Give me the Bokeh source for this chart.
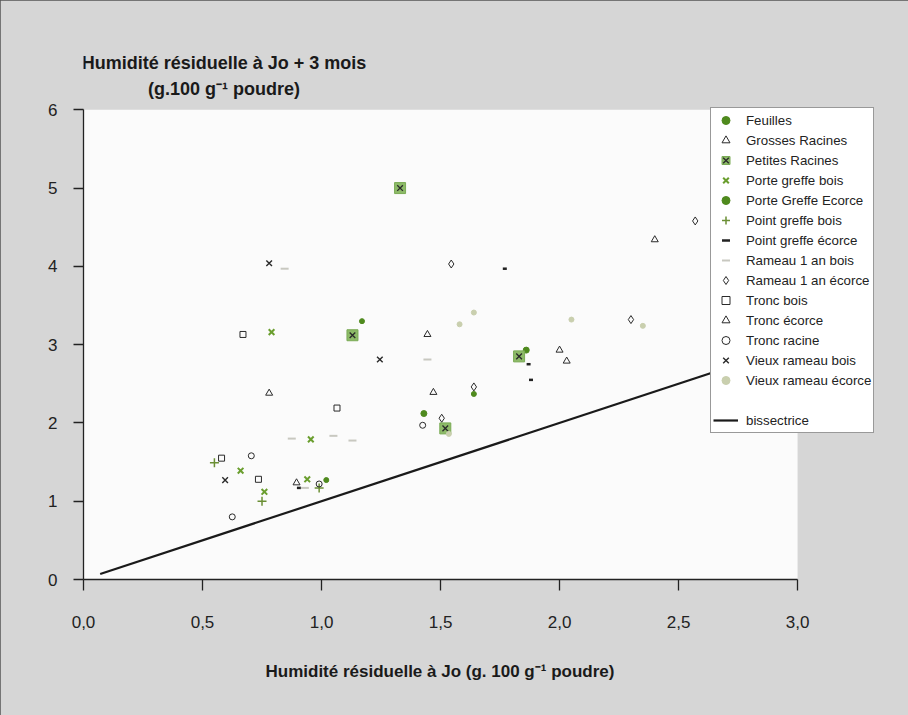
from bokeh.plotting import figure
from bokeh.models import (Range1d, FixedTicker, CustomJSTickFormatter, Label,
                          Legend, LegendItem, BoxAnnotation, Title)
from bokeh.embed import file_html
from bokeh.resources import INLINE

# ---------------- data ----------------
x_tick_values = [0.0, 0.5, 1.0, 1.5, 2.0, 2.5, 3.0]
y_tick_values = [0, 1, 2, 3, 4, 5, 6]
x_axis_min, x_axis_max = 0.0, 3.0
y_axis_min, y_axis_max = 0, 6

feuilles_x = [1.43, 1.86]
feuilles_y = [2.12, 2.93]
grosses_racines_x = [2.40, 2.00, 2.03]
grosses_racines_y = [4.34, 2.93, 2.79]
petites_racines_x = [1.33, 1.13, 1.83, 1.52]
petites_racines_y = [5.00, 3.12, 2.85, 1.93]
pg_bois_x = [0.79, 0.955, 0.66, 0.76, 0.94]
pg_bois_y = [3.16, 1.79, 1.39, 1.12, 1.28]
pg_ecorce_x = [1.64, 1.17, 1.02]
pg_ecorce_y = [2.37, 3.30, 1.27]
ptg_bois_x = [0.55, 0.75, 0.99]
ptg_bois_y = [1.49, 1.00, 1.17]
ptg_ecorce_x = [0.905, 1.77, 1.87, 1.88]
ptg_ecorce_y = [1.17, 3.97, 2.75, 2.55]
r1_bois_x = [0.875, 1.05, 1.13, 1.445, 0.93, 0.845]
r1_bois_y = [1.80, 1.835, 1.775, 2.81, 1.17, 3.97]
r1_ecorce_x = [1.545, 2.30, 1.64, 1.505, 2.57]
r1_ecorce_y = [4.03, 3.32, 2.46, 2.06, 4.58]
tronc_bois_x = [0.67, 1.065, 0.58, 0.735]
tronc_bois_y = [3.13, 2.19, 1.55, 1.28]
tronc_ecorce_x = [1.445, 0.78, 1.47, 0.895]
tronc_ecorce_y = [3.13, 2.38, 2.39, 1.235]
tronc_racine_x = [1.425, 0.705, 0.99, 0.625]
tronc_racine_y = [1.97, 1.58, 1.22, 0.80]
vr_bois_x = [0.78, 1.245, 0.595]
vr_bois_y = [4.04, 2.81, 1.27]
vr_ecorce_x = [1.64, 1.58, 2.05, 2.35, 1.535]
vr_ecorce_y = [3.41, 3.26, 3.32, 3.24, 1.86]
bis_x = [0.07, 3.0]
bis_y = [0.07, 3.0]

y_title_1 = "Humidité résiduelle à Jo + 3 mois"
y_title_2 = "(g.100 g⁻¹ poudre)"
x_title = "Humidité résiduelle à Jo (g. 100 g⁻¹ poudre)"

# ---------------- figure ----------------
W, H = 908, 715
FONT = "Liberation Sans"
DARK = "#2a2a2a"
GREEN = "#4f8a1e"
GREEN2 = "#6a9e2e"
LIGHT = "#c9cfae"
GRAY_BG = "#d6d6d6"

p = figure(width=W, height=H, x_range=Range1d(0, 3.382), y_range=Range1d(0, 7.0),
           output_backend="svg", toolbar_location=None,
           min_border_left=83, min_border_right=20,
           min_border_top=31, min_border_bottom=136)
p.styles = {"position": "fixed", "left": "0px", "top": "0px",
            "background-color": GRAY_BG,
            "outline": "1.5px solid #555", "outline-offset": "-1.5px"}
p.border_fill_color = GRAY_BG
p.background_fill_color = GRAY_BG
p.outline_line_color = None
p.xgrid.visible = False
p.ygrid.visible = False

# white plotting area
p.add_layout(BoxAnnotation(left=x_axis_min, right=x_axis_max,
                           bottom=y_axis_min, top=y_axis_max,
                           fill_color="#fbfbfb", fill_alpha=1.0,
                           line_color=None, level="underlay"))

for ax in (p.xaxis[0], p.yaxis[0]):
    ax.axis_line_color = "#222"
    ax.axis_line_width = 1.3
    ax.major_tick_line_color = "#222"
    ax.major_tick_line_width = 1.3
    ax.major_tick_in = 0
    ax.minor_tick_line_color = None
    ax.major_label_text_font = FONT
    ax.major_label_text_font_size = "17px"
    ax.major_label_text_color = "#222"

p.xaxis.bounds = (x_axis_min, x_axis_max)
p.yaxis.bounds = (y_axis_min, y_axis_max)
p.xaxis.ticker = FixedTicker(ticks=x_tick_values)
p.xaxis.formatter = CustomJSTickFormatter(code="return tick.toFixed(1).replace('.', ',');")
p.yaxis.ticker = FixedTicker(ticks=y_tick_values)
p.xaxis.major_tick_out = 11
p.yaxis.major_tick_out = 10
p.xaxis.major_label_standoff = 25
p.yaxis.major_label_standoff = 16

p.add_layout(Title(text=x_title, align="left", offset=182, standoff=58,
                   text_font=FONT, text_font_style="bold", text_font_size="17px",
                   text_color="#1a1a1a"), "below")

for txt, yy in ((y_title_1, 6.6), (y_title_2, 6.27)):
    p.add_layout(Label(x=0.59, y=yy, text=txt, text_align="center",
                       text_baseline="middle", text_font=FONT,
                       text_font_style="bold", text_font_size="18px",
                       text_color="#1a1a1a"))

# ---------------- glyphs ----------------
r_bis = p.line(bis_x, bis_y, line_color="#1a1a1a", line_width=2.2)

r_feu = p.scatter(feuilles_x, feuilles_y, marker="circle", size=6,
                  fill_color=GREEN, line_color=GREEN)
r_gr = p.scatter(grosses_racines_x, grosses_racines_y, marker="triangle", size=7,
                 fill_color=None, line_color=DARK, line_width=1)
r_pr_sq = p.scatter(petites_racines_x, petites_racines_y, marker="square", size=11,
                    fill_color="#8dba68", line_color="#7aab55")
r_pr_x = p.scatter(petites_racines_x, petites_racines_y, marker="x", size=8,
                   line_color=DARK, line_width=1.3)
r_pgb = p.scatter(pg_bois_x, pg_bois_y, marker="x", size=8,
                  line_color=GREEN2, line_width=2)
r_pge = p.scatter(pg_ecorce_x, pg_ecorce_y, marker="circle", size=5,
                  fill_color=GREEN, line_color=GREEN)
r_ptb = p.scatter(ptg_bois_x, ptg_bois_y, marker="cross", size=9,
                  line_color="#6b8f35", line_width=1.5)
r_pte = p.scatter(ptg_ecorce_x, ptg_ecorce_y, marker="dash", size=4,
                  line_color="#222", line_width=2.5)
r_r1b = p.scatter(r1_bois_x, r1_bois_y, marker="dash", size=8,
                  line_color="#c8c8c0", line_width=2)
r_r1e = p.scatter(r1_ecorce_x, r1_ecorce_y, marker="diamond", size=8,
                  fill_color=None, line_color=DARK, line_width=1)
r_tb = p.scatter(tronc_bois_x, tronc_bois_y, marker="square", size=6,
                 fill_color=None, line_color=DARK, line_width=1)
r_te = p.scatter(tronc_ecorce_x, tronc_ecorce_y, marker="triangle", size=7,
                 fill_color=None, line_color=DARK, line_width=1)
r_tr = p.scatter(tronc_racine_x, tronc_racine_y, marker="circle", size=6,
                 fill_color=None, line_color=DARK, line_width=1)
r_vrb = p.scatter(vr_bois_x, vr_bois_y, marker="x", size=8,
                  line_color=DARK, line_width=1.4)
r_vre = p.scatter(vr_ecorce_x, vr_ecorce_y, marker="circle", size=5,
                  fill_color=LIGHT, line_color=LIGHT)
r_blank = p.scatter([], [], marker="circle", size=1, fill_alpha=0, line_alpha=0)

items = [
    LegendItem(label="Feuilles", renderers=[r_feu]),
    LegendItem(label="Grosses Racines", renderers=[r_gr]),
    LegendItem(label="Petites Racines", renderers=[r_pr_sq, r_pr_x]),
    LegendItem(label="Porte greffe bois", renderers=[r_pgb]),
    LegendItem(label="Porte Greffe Ecorce", renderers=[r_pge]),
    LegendItem(label="Point greffe bois", renderers=[r_ptb]),
    LegendItem(label="Point greffe écorce", renderers=[r_pte]),
    LegendItem(label="Rameau 1 an bois", renderers=[r_r1b]),
    LegendItem(label="Rameau 1 an écorce", renderers=[r_r1e]),
    LegendItem(label="Tronc bois", renderers=[r_tb]),
    LegendItem(label="Tronc écorce", renderers=[r_te]),
    LegendItem(label="Tronc racine", renderers=[r_tr]),
    LegendItem(label="Vieux rameau bois", renderers=[r_vrb]),
    LegendItem(label="Vieux rameau écorce", renderers=[r_vre]),
    LegendItem(label=" ", renderers=[r_blank]),
    LegendItem(label="bissectrice", renderers=[r_bis]),
]
legend = Legend(items=items, location=(627, 146), margin=0, padding=2, spacing=0,
                glyph_width=25, glyph_height=20, label_height=20, label_standoff=8,
                label_text_font=FONT, label_text_font_size="13.3px",
                label_text_color="#222", border_line_color="#333",
                border_line_width=1.5, background_fill_color="white",
                background_fill_alpha=1.0)
p.add_layout(legend)

open("out.html", "w").write(file_html(p, INLINE))
